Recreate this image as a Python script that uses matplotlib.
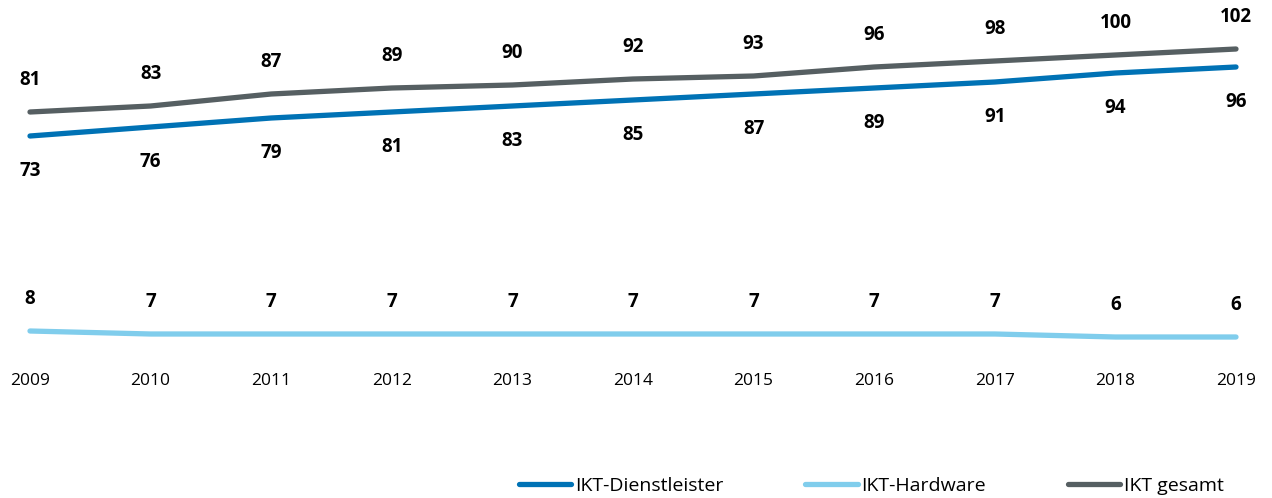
import matplotlib.pyplot as plt

years = [2009, 2010, 2011, 2012, 2013, 2014, 2015, 2016, 2017, 2018, 2019]
dienstleister = [73, 76, 79, 81, 83, 85, 87, 89, 91, 94, 96]
hardware = [8, 7, 7, 7, 7, 7, 7, 7, 7, 6, 6]
gesamt = [81, 83, 87, 89, 90, 92, 93, 96, 98, 100, 102]

c_dl = '#0072b5'
c_hw = '#80cdec'
c_ges = '#565f62'

plt.rcParams['font.family'] = ['Open Sans', 'DejaVu Sans']

fig = plt.figure(figsize=(12.72, 4.98), dpi=100)
# axes placed so that 2009..2019 spans px 30..1236, y=0 at px 355, 3 px per unit
ax = fig.add_axes([30 / 1272, (498 - 355) / 498, 1206 / 1272, 330 / 498])
ax.set_xlim(2009, 2019)
ax.set_ylim(0, 110)

ax.plot(years, dienstleister, color=c_dl, lw=3.8, solid_capstyle='round',
        label='IKT-Dienstleister', clip_on=False)
ax.plot(years, hardware, color=c_hw, lw=3.8, solid_capstyle='round',
        label='IKT-Hardware', clip_on=False)
ax.plot(years, gesamt, color=c_ges, lw=3.8, solid_capstyle='round',
        label='IKT gesamt', clip_on=False)

for x, v in zip(years, gesamt):
    ax.annotate(str(v), (x, v), xytext=(0, 23), textcoords='offset points',
                ha='center', va='center', fontsize=13.5, fontweight='bold')
for x, v in zip(years, dienstleister):
    ax.annotate(str(v), (x, v), xytext=(0, -25), textcoords='offset points',
                ha='center', va='center', fontsize=13.5, fontweight='bold')
for x, v in zip(years, hardware):
    ax.annotate(str(v), (x, v), xytext=(0, 23), textcoords='offset points',
                ha='center', va='center', fontsize=13.5, fontweight='bold')

ax.set_xticks(years)
ax.set_xticklabels([str(y) for y in years], fontsize=12.5)
ax.tick_params(axis='x', length=0, pad=13)
ax.set_yticks([])
for s in ax.spines.values():
    s.set_visible(False)

fig.legend(loc='center right', bbox_to_anchor=(1224 / 1272, 12 / 498),
           ncol=3, frameon=False, fontsize=14, handlelength=2.7,
           handletextpad=0.2, columnspacing=4.2, borderpad=0, borderaxespad=0)

fig.savefig('out.png', dpi=100)
